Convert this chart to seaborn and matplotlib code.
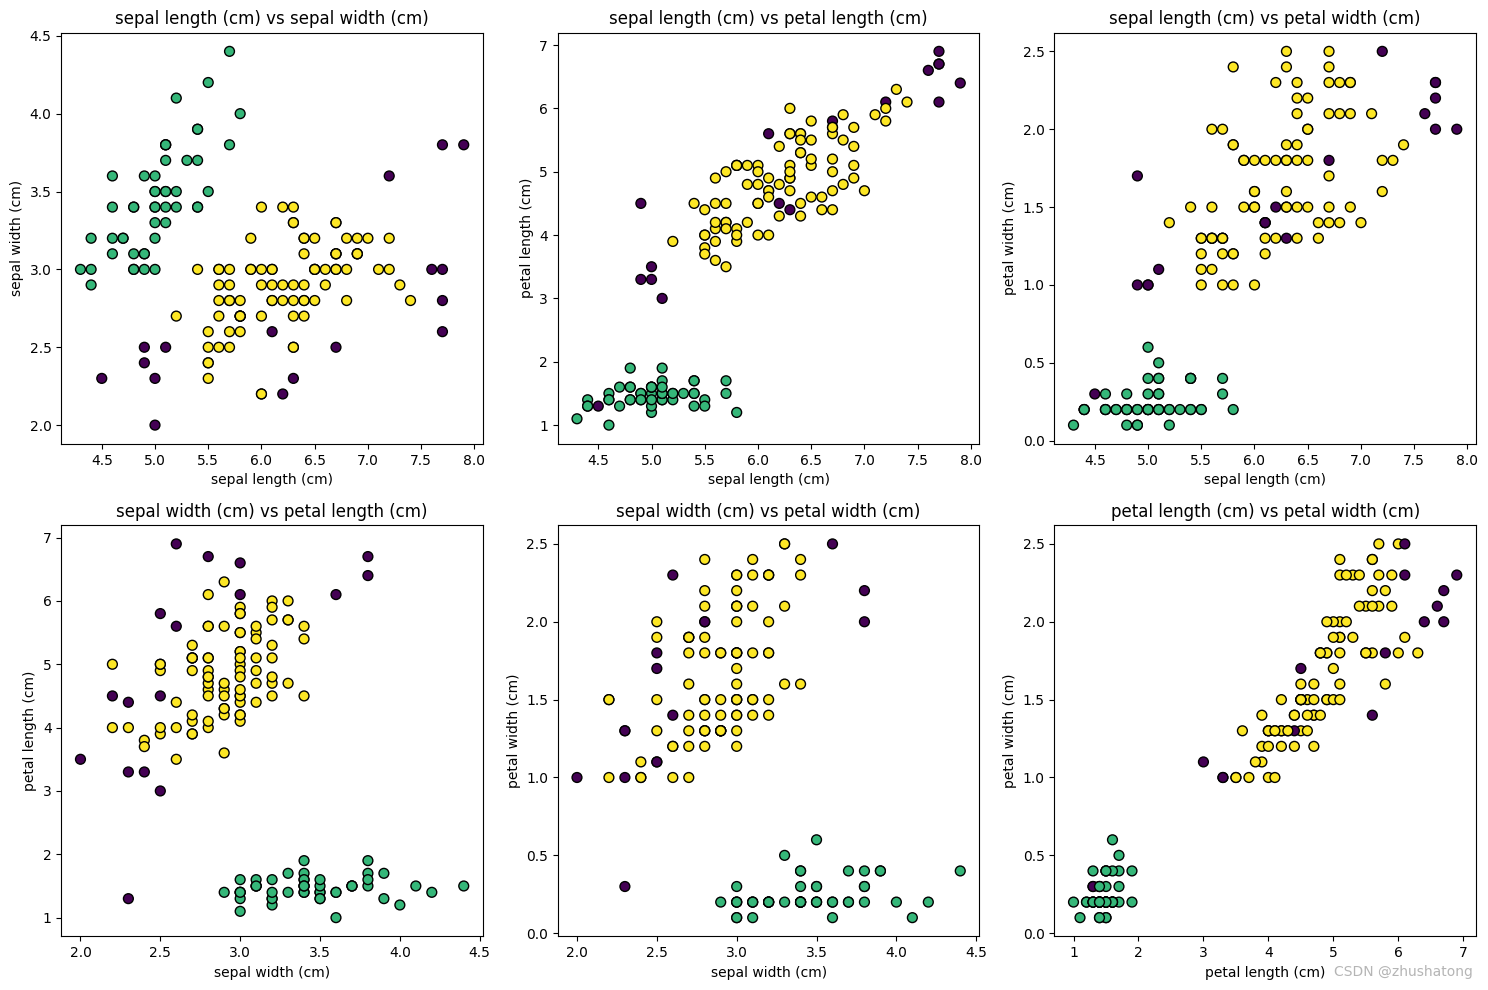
import matplotlib
matplotlib.use("Agg")
import matplotlib.pyplot as plt
import seaborn as sns
import pandas as pd
import itertools

feature_names = ["sepal length (cm)", "sepal width (cm)", "petal length (cm)", "petal width (cm)"]

sepal_length = [
    5.1, 4.9, 4.7, 4.6, 5.0, 5.4, 4.6, 5.0, 4.4, 4.9, 5.4, 4.8, 4.8, 4.3, 5.8, 5.7, 5.4, 5.1, 5.7, 5.1,
    5.4, 5.1, 4.6, 5.1, 4.8, 5.0, 5.0, 5.2, 5.2, 4.7, 4.8, 5.4, 5.2, 5.5, 4.9, 5.0, 5.5, 4.9, 4.4, 5.1,
    5.0, 4.5, 4.4, 5.0, 5.1, 4.8, 5.1, 4.6, 5.3, 5.0,
    7.0, 6.4, 6.9, 5.5, 6.5, 5.7, 6.3, 4.9, 6.6, 5.2, 5.0, 5.9, 6.0, 6.1, 5.6, 6.7, 5.6, 5.8, 6.2, 5.6,
    5.9, 6.1, 6.3, 6.1, 6.4, 6.6, 6.8, 6.7, 6.0, 5.7, 5.5, 5.5, 5.8, 6.0, 5.4, 6.0, 6.7, 6.3, 5.6, 5.5,
    5.5, 6.1, 5.8, 5.0, 5.6, 5.7, 5.7, 6.2, 5.1, 5.7,
    6.3, 5.8, 7.1, 6.3, 6.5, 7.6, 4.9, 7.3, 6.7, 7.2, 6.5, 6.4, 6.8, 5.7, 5.8, 6.4, 6.5, 7.7, 7.7, 6.0,
    6.9, 5.6, 7.7, 6.3, 6.7, 7.2, 6.2, 6.1, 6.4, 7.2, 7.4, 7.9, 6.4, 6.3, 6.1, 7.7, 6.3, 6.4, 6.0, 6.9,
    6.7, 6.9, 5.8, 6.8, 6.7, 6.7, 6.3, 6.5, 6.2, 5.9,
]
sepal_width = [
    3.5, 3.0, 3.2, 3.1, 3.6, 3.9, 3.4, 3.4, 2.9, 3.1, 3.7, 3.4, 3.0, 3.0, 4.0, 4.4, 3.9, 3.5, 3.8, 3.8,
    3.4, 3.7, 3.6, 3.3, 3.4, 3.0, 3.4, 3.5, 3.4, 3.2, 3.1, 3.4, 4.1, 4.2, 3.1, 3.2, 3.5, 3.6, 3.0, 3.4,
    3.5, 2.3, 3.2, 3.5, 3.8, 3.0, 3.8, 3.2, 3.7, 3.3,
    3.2, 3.2, 3.1, 2.3, 2.8, 2.8, 3.3, 2.4, 2.9, 2.7, 2.0, 3.0, 2.2, 2.9, 2.9, 3.1, 3.0, 2.7, 2.2, 2.5,
    3.2, 2.8, 2.5, 2.8, 2.9, 3.0, 2.8, 3.0, 2.9, 2.6, 2.4, 2.4, 2.7, 2.7, 3.0, 3.4, 3.1, 2.3, 3.0, 2.5,
    2.6, 3.0, 2.6, 2.3, 2.7, 3.0, 2.9, 2.9, 2.5, 2.8,
    3.3, 2.7, 3.0, 2.9, 3.0, 3.0, 2.5, 2.9, 2.5, 3.6, 3.2, 2.7, 3.0, 2.5, 2.8, 3.2, 3.0, 3.8, 2.6, 2.2,
    3.2, 2.8, 2.8, 2.7, 3.3, 3.2, 2.8, 3.0, 2.8, 3.0, 2.8, 3.8, 2.8, 2.8, 2.6, 3.0, 3.4, 3.1, 3.0, 3.1,
    3.1, 3.1, 2.7, 3.2, 3.3, 3.0, 2.5, 3.0, 3.4, 3.0,
]
petal_length = [
    1.4, 1.4, 1.3, 1.5, 1.4, 1.7, 1.4, 1.5, 1.4, 1.5, 1.5, 1.6, 1.4, 1.1, 1.2, 1.5, 1.3, 1.4, 1.7, 1.5,
    1.7, 1.5, 1.0, 1.7, 1.9, 1.6, 1.6, 1.5, 1.4, 1.6, 1.6, 1.5, 1.5, 1.4, 1.5, 1.2, 1.3, 1.4, 1.3, 1.5,
    1.3, 1.3, 1.3, 1.6, 1.9, 1.4, 1.6, 1.4, 1.5, 1.4,
    4.7, 4.5, 4.9, 4.0, 4.6, 4.5, 4.7, 3.3, 4.6, 3.9, 3.5, 4.2, 4.0, 4.7, 3.6, 4.4, 4.5, 4.1, 4.5, 3.9,
    4.8, 4.0, 4.9, 4.7, 4.3, 4.4, 4.8, 5.0, 4.5, 3.5, 3.8, 3.7, 3.9, 5.1, 4.5, 4.5, 4.7, 4.4, 4.1, 4.0,
    4.4, 4.6, 4.0, 3.3, 4.2, 4.2, 4.2, 4.3, 3.0, 4.1,
    6.0, 5.1, 5.9, 5.6, 5.8, 6.6, 4.5, 6.3, 5.8, 6.1, 5.1, 5.3, 5.5, 5.0, 5.1, 5.3, 5.5, 6.7, 6.9, 5.0,
    5.7, 4.9, 6.7, 4.9, 5.7, 6.0, 4.8, 4.9, 5.6, 5.8, 6.1, 6.4, 5.6, 5.1, 5.6, 6.1, 5.6, 5.5, 4.8, 5.4,
    5.6, 5.1, 5.1, 5.9, 5.7, 5.2, 5.0, 5.2, 5.4, 5.1,
]
petal_width = [
    0.2, 0.2, 0.2, 0.2, 0.2, 0.4, 0.3, 0.2, 0.2, 0.1, 0.2, 0.2, 0.1, 0.1, 0.2, 0.4, 0.4, 0.3, 0.3, 0.3,
    0.2, 0.4, 0.2, 0.5, 0.2, 0.2, 0.4, 0.2, 0.2, 0.2, 0.2, 0.4, 0.1, 0.2, 0.2, 0.2, 0.2, 0.1, 0.2, 0.2,
    0.3, 0.3, 0.2, 0.6, 0.4, 0.3, 0.2, 0.2, 0.2, 0.2,
    1.4, 1.5, 1.5, 1.3, 1.5, 1.3, 1.6, 1.0, 1.3, 1.4, 1.0, 1.5, 1.0, 1.4, 1.3, 1.4, 1.5, 1.0, 1.5, 1.1,
    1.8, 1.3, 1.5, 1.2, 1.3, 1.4, 1.4, 1.7, 1.5, 1.0, 1.1, 1.0, 1.2, 1.6, 1.5, 1.6, 1.5, 1.3, 1.3, 1.3,
    1.2, 1.4, 1.2, 1.0, 1.3, 1.2, 1.3, 1.3, 1.1, 1.3,
    2.5, 1.9, 2.1, 1.8, 2.2, 2.1, 1.7, 1.8, 1.8, 2.5, 2.0, 1.9, 2.1, 2.0, 2.4, 2.3, 1.8, 2.2, 2.3, 1.5,
    2.3, 2.0, 2.0, 1.8, 2.1, 1.8, 1.8, 1.8, 2.1, 1.6, 1.9, 2.0, 2.2, 1.5, 1.4, 2.3, 2.4, 1.8, 1.8, 2.1,
    2.4, 2.3, 1.9, 2.3, 2.5, 2.3, 1.9, 2.0, 2.3, 1.8,
]
# cluster labels (-1 = noise)
cluster_labels = [
    0, 0, 0, 0, 0, 0, 0, 0, 0, 0, 0, 0, 0, 0, 0, 0, 0, 0, 0, 0,
    0, 0, 0, 0, 0, 0, 0, 0, 0, 0, 0, 0, 0, 0, 0, 0, 0, 0, 0, 0,
    0, -1, 0, 0, 0, 0, 0, 0, 0, 0,
    1, 1, 1, 1, 1, 1, 1, -1, 1, 1, -1, 1, 1, 1, 1, 1, 1, 1, -1, 1,
    1, 1, 1, 1, 1, 1, 1, 1, 1, 1, 1, 1, 1, 1, 1, 1, 1, -1, 1, 1,
    1, 1, 1, -1, 1, 1, 1, 1, -1, 1,
    1, 1, 1, 1, 1, -1, -1, 1, -1, -1, 1, 1, 1, 1, 1, 1, 1, -1, -1, 1,
    1, 1, -1, 1, 1, 1, 1, 1, 1, 1, 1, -1, 1, 1, -1, -1, 1, 1, 1, 1,
    1, 1, 1, 1, 1, 1, 1, 1, 1, 1,
]

palette = {-1: "#440154", 0: "#35b779", 1: "#fde725"}

df = pd.DataFrame({
    feature_names[0]: sepal_length,
    feature_names[1]: sepal_width,
    feature_names[2]: petal_length,
    feature_names[3]: petal_width,
    "cluster": cluster_labels,
})

fig, axes = plt.subplots(2, 3, figsize=(14.88, 9.9), dpi=100)
fig.subplots_adjust(left=0.0412, right=0.9919, top=0.967, bottom=0.0542,
                    wspace=0.1777, hspace=0.198)
for ax, (i, j) in zip(axes.flat, itertools.combinations(range(4), 2)):
    xn, yn = feature_names[i], feature_names[j]
    sns.scatterplot(data=df, x=xn, y=yn, hue="cluster", palette=palette,
                    s=50, edgecolor="black", linewidth=1, legend=False, ax=ax)
    ax.set_title(f"{xn} vs {yn}", fontsize=12)
    ax.set_xlabel(xn)
    ax.set_ylabel(yn)

fig.text(0.9895, 0.0115, "CSDN @zhushatong", ha="right", va="bottom",
         color="#b5b5b5", fontsize=10)
fig.savefig("out.png", dpi=100)
